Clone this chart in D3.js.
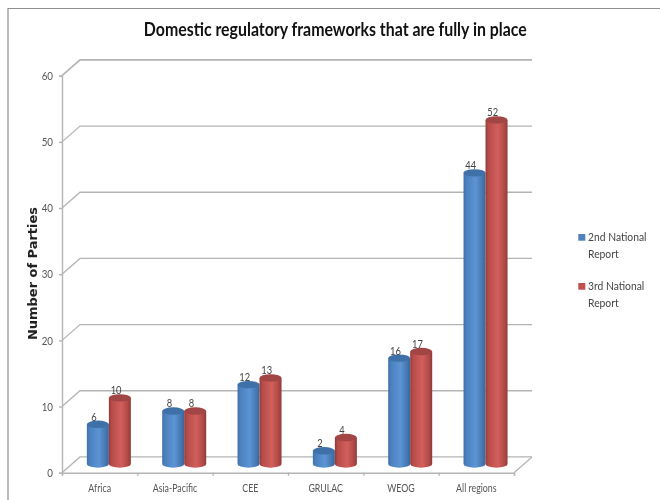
<!DOCTYPE html>
<html><head><meta charset="utf-8">
<script src="https://cdn.jsdelivr.net/npm/d3@7"></script>
<style>html,body{margin:0;padding:0;background:#fff}svg{display:block;filter:blur(0.4px)}</style>
</head><body><svg id="c" width="660" height="500"></svg>
<script>
const categories=["Africa","Asia-Pacific","CEE","GRULAC","WEOG","All regions"];
const report2=[6,8,12,2,16,44];
const report3=[10,8,13,4,17,52];
const seriesNames=[["2nd National","Report"],["3rd National","Report"]];
const yTicks=[0,10,20,30,40,50,60];
const titleText="Domestic regulatory frameworks that are fully in place";
const yTitle="Number of Parties";

const svg=d3.select("#c");
const font="Lato, 'Open Sans', sans-serif";
const dx=18,dy=-15.8;
const x=d3.scaleBand().domain(categories).range([62,514]);
const y=d3.scaleLinear().domain([0,60]).range([472.7,75.7]);
const rx=11, ry=3.7;
function fit(sel,f){sel.each(function(){const n=this;n.setAttribute("textLength",n.getComputedTextLength()*f);n.setAttribute("lengthAdjust","spacingAndGlyphs");});}

svg.append("path").attr("d","M660,8.5H8V500").attr("fill","none").attr("stroke","#8f8f8f").attr("stroke-width",1.2);

const defs=svg.append("defs");
function grad(id,stops){const g=defs.append("linearGradient").attr("id",id);
 stops.forEach(s=>g.append("stop").attr("offset",s[0]).attr("stop-color",s[1]));}
grad("gb",[[0,"#3f70a8"],[.12,"#4a80bd"],[.55,"#5c94d4"],[.85,"#4678b2"],[1,"#38659a"]]);
grad("gr",[[0,"#8f3a38"],[.12,"#b54b48"],[.55,"#d25f5c"],[.85,"#b14a47"],[1,"#8f3a38"]]);

const gc="#b4b4b4";
const grid=svg.append("g").attr("fill","none").attr("stroke",gc);
grid.selectAll("path").data(yTicks).join("path")
 .attr("stroke-width",d=>d==60?1.6:1.3)
 .attr("d",d=>`M62,${y(d)}L${62+dx},${y(d)+dy}L${514+dx},${y(d)+dy}`);
grid.append("path").attr("stroke-width",1.3).attr("d",`M514,${y(0)}L${514+dx},${y(0)+dy}`);

const yAxis=d3.axisLeft(y).tickValues(yTicks).tickSize(3).tickPadding(6);
const ga=svg.append("g").attr("transform","translate(62,0)").call(yAxis);
ga.selectAll("text").attr("font-family",font).attr("font-size",11.5).attr("fill","#555").call(fit,.85);
ga.selectAll("line,path").attr("stroke",gc).attr("stroke-width",1.4);
const xAxis=d3.axisBottom(d3.scaleLinear().domain([0,6]).range([62,514])).tickValues(d3.range(7)).tickSize(3).tickFormat("");
const gx=svg.append("g").attr("transform",`translate(0,${y(0)})`).call(xAxis);
gx.selectAll("line,path").attr("stroke",gc).attr("stroke-width",1.4);

const base=464;
const h=v=>y(0)-y(v);
const cx=(i,off)=>x(categories[i])+x.bandwidth()/2+9.2+off;
function cyl(v){const t=base-h(v);return `M${-rx},${t}L${-rx},${base}A${rx},${ry} 0 0 0 ${rx},${base}L${rx},${t}Z`;}
function drawSeries(vals,off,fill,topc){
 const n=svg.append("g").selectAll("g").data(vals).join("g").attr("transform",(d,i)=>`translate(${cx(i,off)},0)`);
 n.append("path").attr("d",d=>cyl(d)).attr("fill",`url(#${fill})`);
 n.append("ellipse").attr("cy",d=>base-h(d)).attr("rx",rx).attr("ry",ry).attr("fill",topc);
}
drawSeries(report2,-11,"gb","#3f70a8");
drawSeries(report3,11,"gr","#a14644");

function labels(vals,off){
 svg.append("g").selectAll("text").data(vals).join("text")
  .attr("x",(d,i)=>cx(i,off)-3.8)
  .attr("y",d=>base-h(d)-3.6)
  .attr("text-anchor","middle").attr("font-family",font).attr("font-size",11).attr("fill","#444").text(d=>d).call(fit,.85);
}
labels(report2,-11);labels(report3,11);

svg.append("g").selectAll("text").data(categories).join("text")
 .attr("x",d=>x(d)+x.bandwidth()/2).attr("y",491.5)
 .attr("text-anchor","middle").attr("font-family",font).attr("font-size",11).attr("fill","#555").text(d=>d).call(fit,.8);

svg.append("text").attr("x",335.3).attr("y",36).attr("text-anchor","middle").attr("font-family",font)
 .attr("font-weight",700).attr("font-size",18.5).attr("fill","#111").attr("textLength",383).attr("lengthAdjust","spacingAndGlyphs").text(titleText);
svg.append("text").attr("transform","translate(36.8,273.5) rotate(-90)").attr("text-anchor","middle")
 .attr("font-family","'DejaVu Sans',sans-serif").attr("font-weight",700).attr("font-size",13).attr("fill","#222")
 .attr("textLength",133).attr("lengthAdjust","spacingAndGlyphs").text(yTitle);

const legendY=[237.3,286.3],legendC=["#4f81bd","#c0504d"];
seriesNames.forEach((lines,i)=>{
 svg.append("rect").attr("x",578.3).attr("y",legendY[i]-3.3).attr("width",7).attr("height",6.7).attr("fill",legendC[i]);
 lines.forEach((t,j)=>svg.append("text").attr("x",588).attr("y",legendY[i]+3.5+j*17).attr("font-family",font).attr("font-size",12).attr("fill","#444").text(t).call(fit,.86));
});
</script></body></html>
